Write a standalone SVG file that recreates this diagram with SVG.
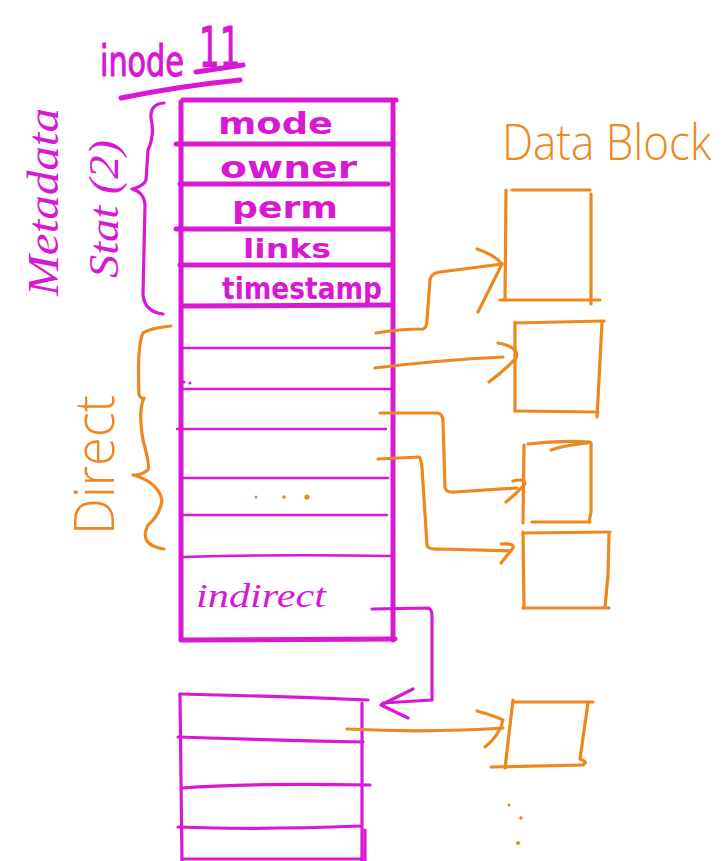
<svg xmlns="http://www.w3.org/2000/svg" width="725" height="861" viewBox="0 0 725 861">
  <style>
    .mg { stroke: #d918d4; fill: none; stroke-linecap: round; stroke-linejoin: round; }
    .or { stroke: #ee871e; fill: none; stroke-linecap: round; stroke-linejoin: round; }
    .thick { stroke-width: 5; }
    .mid { stroke-width: 3.2; }
    .thin { stroke-width: 2.4; }
    .t-mg { fill: #d918d4; font-family: "DejaVu Sans", "Liberation Sans", sans-serif; }
    .t-or { fill: #ee871e; font-family: "Open Sans", "Liberation Sans", sans-serif; font-weight: 300; }
    .field { font-size: 31px; font-weight: bold; }
    .dot-or { fill: #ee871e; }
    .dot-mg { fill: #d918d4; }
  </style>

  <!-- title -->
  <g id="title">
    <text class="t-mg" transform="translate(100 76) scale(0.72 1)" font-size="42" stroke="#d918d4" stroke-width="1.2">inode</text>
    <text class="t-mg" transform="translate(199 66) scale(0.58 1)" font-size="56" stroke="#d918d4" stroke-width="1.2">11</text>
    <path class="mg thick" d="M196 72 L243 65"/>
    <path class="mg thick" d="M121 98 Q180 86 240 80"/>
  </g>

  <!-- inode table -->
  <g id="inode-table">
    <path class="mg thick" d="M183 100 L396 100"/>
    <path class="mg thick" d="M181 102 L181 640"/>
    <path class="mg thick" d="M393 103 L393 640"/>
    <path class="mg thick" d="M183 640 L395 639"/>
    <path class="mg thick" d="M176 144 L393 144"/>
    <path class="mg thick" d="M180 184 L388 184"/>
    <path class="mg thick" d="M176 229 L391 229"/>
    <path class="mg thick" d="M180 265 L391 265"/>
    <path class="mg thick" d="M182 306 L392 305"/>
    <path class="mg thin" d="M183 348 L390 348"/>
    <path class="mg thin" d="M183 389 L390 389"/>
    <path class="mg thin" d="M177 429 L386 429"/>
    <path class="mg thin" d="M183 478 L388 478"/>
    <path class="mg thin" d="M183 515 L387 515"/>
    <path class="mg thin" d="M183 557 Q280 554 390 556"/>
    <circle class="dot-mg" cx="184" cy="382" r="1.5"/>
    <circle class="dot-mg" cx="190" cy="383" r="1.5"/>
    <text class="t-mg field" x="218" y="134" textLength="115" lengthAdjust="spacingAndGlyphs">mode</text>
    <text class="t-mg field" x="220" y="178" textLength="137" lengthAdjust="spacingAndGlyphs">owner</text>
    <text class="t-mg field" x="232" y="218" textLength="106" lengthAdjust="spacingAndGlyphs">perm</text>
    <text class="t-mg" x="243" y="258" font-size="27" font-weight="bold" textLength="88" lengthAdjust="spacingAndGlyphs">links</text>
    <text class="t-mg" x="222" y="299" font-size="30" font-weight="bold" textLength="160" lengthAdjust="spacingAndGlyphs">timestamp</text>
    <circle class="dot-or" cx="256" cy="497" r="1.5"/>
    <circle class="dot-or" cx="284" cy="497" r="1.8"/>
    <circle class="dot-or" cx="307" cy="497" r="2.6"/>
    <text class="t-mg" x="196" y="607" font-size="33" font-style="italic" textLength="130" lengthAdjust="spacingAndGlyphs" style="font-family: 'Liberation Serif', serif;">indirect</text>
  </g>

  <!-- metadata brace and labels -->
  <g id="metadata-label">
    <path class="mg mid" d="M164 103 Q150 104 151 118 Q155 135 148 150 L146 180 Q144 186 132 189 Q144 192 145 205 L143 295 Q145 312 163 314"/>
    <text class="t-mg" transform="translate(58 296) rotate(-90)" font-size="44" textLength="188" lengthAdjust="spacingAndGlyphs" style="font-family: 'Liberation Serif', serif;" font-style="italic">Metadata</text>
    <text class="t-mg" transform="translate(118 278) rotate(-90)" font-size="42" textLength="138" lengthAdjust="spacingAndGlyphs" style="font-family: 'Liberation Serif', serif;" font-style="italic">Stat (2)</text>
  </g>

  <!-- direct brace and label -->
  <g id="direct-label">
    <path class="or mid" d="M171 326 Q150 328 143 333 Q137 345 139 395 Q142 400 144 398 Q138 410 143 440 Q150 465 148 470 Q140 476 133 475 Q158 482 162 500 Q160 515 148 525 Q138 545 164 549"/>
    <text class="t-or" transform="translate(114 535) rotate(-90)" font-size="56" textLength="140" lengthAdjust="spacingAndGlyphs">Direct</text>
  </g>

  <!-- data blocks -->
  <g id="data-block-title">
    <text class="t-or" transform="translate(502 160) scale(0.88 1)" font-size="50">Data Block</text>
  </g>
  <g id="data-block-1">
    <path class="or mid" d="M506 190 L505 300"/>
    <path class="or mid" d="M512 190 L590 190"/>
    <path class="or mid" d="M591 194 L591 304"/>
    <path class="or mid" d="M500 300 L600 300"/>
  </g>
  <g id="data-block-2">
    <path class="or mid" d="M515 322 L515 411"/>
    <path class="or mid" d="M515 323 L604 321"/>
    <path class="or mid" d="M602 323 L597 417"/>
    <path class="or mid" d="M515 411 L598 412"/>
  </g>
  <g id="data-block-3">
    <path class="or mid" d="M524 445 L523 523"/>
    <path class="or mid" d="M528 444 Q560 440 590 442"/>
    <path class="or mid" d="M551 450 Q565 445 588 443"/>
    <path class="or mid" d="M591 443 L591 512 L589 522"/>
    <path class="or mid" d="M532 522 L590 522"/>
  </g>
  <g id="data-block-4">
    <path class="or mid" d="M523 532 L524 608"/>
    <path class="or mid" d="M524 533 L610 532"/>
    <path class="or mid" d="M609 534 L608 575 L605 607"/>
    <path class="or mid" d="M523 608 L609 608"/>
  </g>
  <g id="data-block-5">
    <path class="or mid" d="M513 700 L505 768"/>
    <path class="or mid" d="M513 702 L593 702"/>
    <path class="or mid" d="M588 703 L580 759 Q588 762 584 764"/>
    <path class="or mid" d="M491 767 L583 765"/>
    <circle class="dot-or" cx="509" cy="805" r="1.5"/>
    <circle class="dot-or" cx="521" cy="818" r="1.7"/>
    <circle class="dot-or" cx="518" cy="843" r="2"/>
  </g>

  <!-- indirect block -->
  <g id="indirect-block">
    <path class="mg mid" d="M180 694 Q270 696 368 700"/>
    <path class="mg mid" d="M180 694 L182 861"/>
    <path class="mg mid" d="M362 703 L362 861"/>
    <path class="mg mid" d="M365 830 L365 861"/>
    <path class="mg mid" d="M178 737 Q270 740 363 742"/>
    <path class="mg mid" d="M182 788 Q250 783 370 785"/>
    <path class="mg mid" d="M178 827 Q260 830 360 826"/>
    <path class="mg mid" d="M183 859 L362 859"/>
  </g>

  <!-- connectors -->
  <g id="connectors">
    <path class="or mid" d="M376 333 Q400 329 423 329 Q427 328 427 320 L430 280 Q431 273 440 272 L502 264"/>
    <path class="or mid" d="M477 249 Q495 255 502 264 Q493 282 478 312"/>
    <path class="or mid" d="M375 368 Q440 360 503 357"/>
    <path class="or mid" d="M498 343 Q520 347 516 358 Q505 370 489 382"/>
    <path class="or mid" d="M380 413 L438 413 Q443 414 443 422 L445 488 Q447 493 455 492 L517 488"/>
    <path class="or mid" d="M513 481 Q525 478 525 484 Q515 495 506 502"/>
    <path class="or mid" d="M378 459 L419 457 Q421 458 422 468 L427 545 Q428 550 440 549 L511 551"/>
    <path class="or mid" d="M501 544 Q515 543 513 548 L501 563"/>
    <path class="mg mid" d="M372 609 L428 608 Q432 609 432 616 L432 700 L383 703"/>
    <path class="mg mid" d="M413 689 L381 705 L408 718"/>
    <path class="or mid" d="M347 729 Q430 733 503 728"/>
    <path class="or mid" d="M477 711 Q495 716 503 720 Q500 735 485 747"/>
  </g>
</svg>
